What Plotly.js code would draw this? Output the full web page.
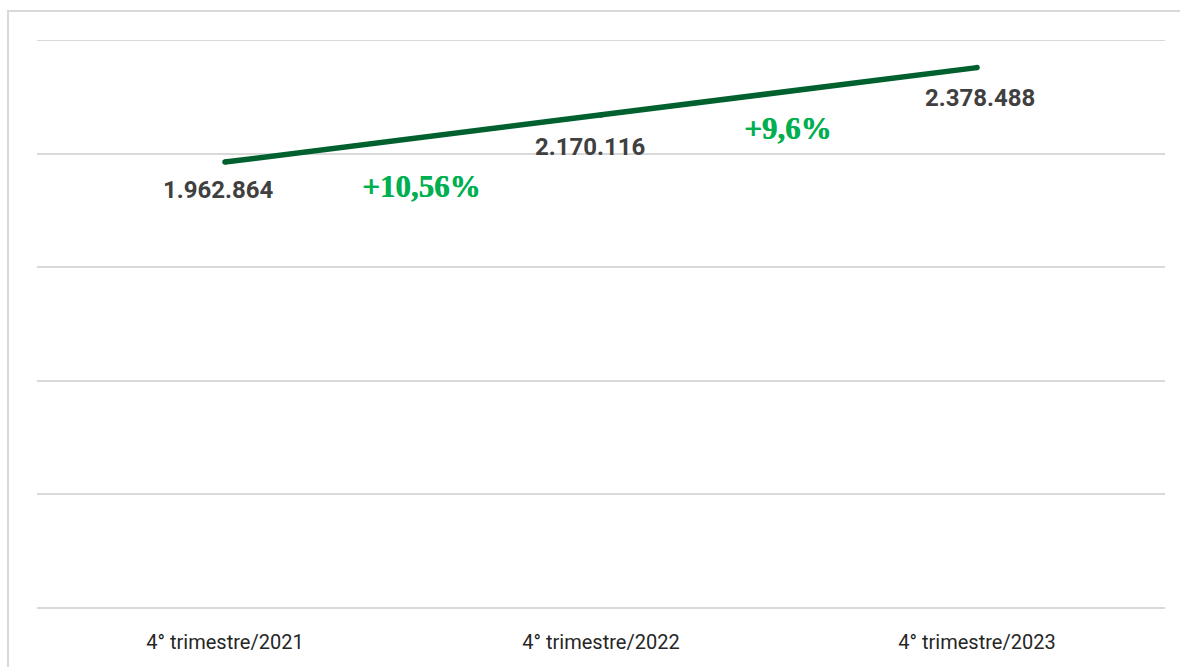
<!DOCTYPE html>
<html>
<head>
<meta charset="utf-8">
<script src="https://cdn.plot.ly/plotly-3.0.1.min.js"></script>
<style>
  html, body { margin: 0; padding: 0; background: #fff; }
  #wrap { position: relative; width: 1180px; height: 667px; overflow: hidden; }
  #chart { width: 1180px; height: 667px; }
  #frame { position: absolute; left: 7px; top: 10px; width: 1200px; height: 700px;
           border-left: 2px solid #d9d9d9; border-top: 2px solid #d9d9d9; pointer-events: none; }
</style>
</head>
<body>
<div id="wrap">
  <div id="chart"></div>
  <div id="frame"></div>
</div>
<script>
const categories = ["4° trimestre/2021", "4° trimestre/2022", "4° trimestre/2023"];
const values = [1962864, 2170116, 2378488];
const valueLabels = ["1.962.864", "2.170.116", "2.378.488"];
const growthLabels = ["+10,56%", "+9,6%"];
const yMax = 2500000;

const trace = {
  type: "scatter",
  mode: "lines+markers",
  x: categories,
  y: values,
  line: { color: "#00612E", width: 5.5 },
  marker: { color: "#00612E", size: 5.5 },
  hoverinfo: "none",
  cliponaxis: false
};

const valueShifts = [{ xs: -7, ys: -28 }, { xs: -11, ys: -32 }, { xs: 3, ys: -30 }];
const valueAnns = valueLabels.map((t, i) => ({
  xref: "x", yref: "y",
  x: i, y: values[i],
  xshift: valueShifts[i].xs, yshift: valueShifts[i].ys,
  text: "<b>" + t + "</b>",
  showarrow: false,
  font: { family: "Roboto, sans-serif", size: 24, color: "#404040" }
}));

const growthShifts = [{ xs: 8, ys: -48 }, { xs: -2, ys: -37 }];
const growthAnns = growthLabels.map((t, i) => ({
  xref: "x", yref: "y",
  x: i + 0.5,
  y: (values[i] + values[i + 1]) / 2,
  xshift: growthShifts[i].xs,
  yshift: growthShifts[i].ys,
  text: t,
  showarrow: false,
  font: { family: "'Liberation Serif', 'Times New Roman', serif", size: 31, color: "#00B050",
          weight: 700, shadow: "0.7px 0 0 #00B050" }
}));

const layout = {
  width: 1180, height: 667,
  margin: { l: 37, r: 15, t: 40, b: 59 },
  paper_bgcolor: "#ffffff",
  plot_bgcolor: "#ffffff",
  showlegend: false,
  xaxis: {
    type: "category",
    range: [-0.5, 2.5],
    showgrid: false, zeroline: false, showline: false,
    ticks: "",
    ticklabelstandoff: 20,
    tickfont: { family: "Roboto, sans-serif", size: 20, color: "#262626" },
    fixedrange: true
  },
  yaxis: {
    range: [0, yMax],
    dtick: 500000,
    showticklabels: false,
    showgrid: true, gridcolor: "#d9d9d9", gridwidth: 2,
    zeroline: true, zerolinecolor: "#d9d9d9", zerolinewidth: 2,
    showline: false, ticks: "",
    fixedrange: true
  },
  shapes: [{
    type: "line", xref: "paper", yref: "y",
    x0: 0, x1: 1, y0: yMax, y1: yMax,
    line: { color: "#d9d9d9", width: 2 },
    layer: "below"
  }],
  annotations: valueAnns.concat(growthAnns)
};

Plotly.newPlot("chart", [trace], layout, { displayModeBar: false, staticPlot: true });
</script>
</body>
</html>
